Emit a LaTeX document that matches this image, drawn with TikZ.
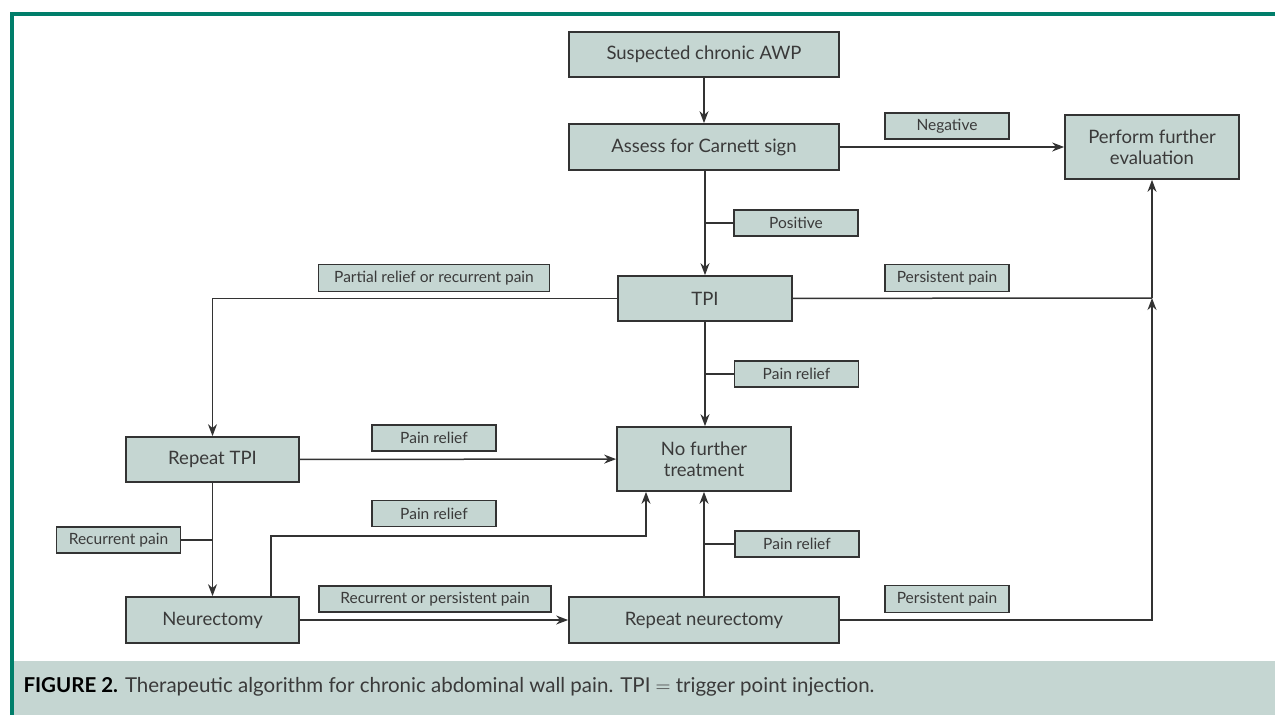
\documentclass[tikz,border=0pt]{standalone}
\usepackage{fontspec}
\setmainfont{Lato}
\usetikzlibrary{arrows.meta}
\definecolor{boxfill}{HTML}{C5D6D2}
\definecolor{frame}{HTML}{007E6A}
\definecolor{ink}{HTML}{333333}
\definecolor{txt}{HTML}{3A3A3A}
\tikzset{
  box/.style={draw=ink, line width=1.7pt, fill=boxfill, text=txt, align=center,
    inner sep=0pt, font=\fontsize{18.5}{21}\selectfont},
  lbl/.style={draw=ink, line width=1.5pt, fill=boxfill, text=txt, inner sep=0pt,
    minimum width=124pt, minimum height=26pt, font=\fontsize{15.5}{18}\selectfont},
  conn/.style={draw=ink, line width=1.5pt},
  arr/.style={conn, -{Stealth[length=12pt,width=9pt]}},
}
\begin{document}
\begin{tikzpicture}[x=1pt,y=-1pt]
\useasboundingbox (0,0) rectangle (1275,715);
% frame and caption band
\fill[boxfill] (13.5,661) rectangle (1275,715);
\fill[frame] (10,12) rectangle (1275,15.5);
\fill[frame] (10,12) rectangle (13.5,715);
\node[anchor=west, text=txt, font=\fontsize{20.5}{23}\selectfont] (cap) at (20,687)
  {{\color{black}\bfseries FIGURE 2.} Therapeutic algorithm for chronic abdominal wall pain. TPI $=$ trigger point injection.};
% main boxes
\node[box, minimum width=270pt, minimum height=45pt] (sus) at (704,54.5) {Suspected chronic AWP};
\node[box, minimum width=270pt, minimum height=46pt] (car) at (704,147) {Assess for Carnett sign};
\node[box, minimum width=174pt, minimum height=64pt] (pfe) at (1152,147) {Perform further\\evaluation};
\node[box, minimum width=174pt, minimum height=45pt] (tpi) at (705,298.5) {TPI};
\node[box, minimum width=173pt, minimum height=45pt] (rtpi) at (212.5,459.5) {Repeat TPI};
\node[box, minimum width=174pt, minimum height=64pt] (nft) at (704,459) {No further\\treatment};
\node[box, minimum width=173pt, minimum height=46pt] (neu) at (212.5,620) {Neurectomy};
\node[box, minimum width=270pt, minimum height=46pt] (rneu) at (704,620) {Repeat neurectomy};
% labels
\node[lbl] (neg) at (947,126) {Negative};
\node[lbl] (pos) at (796,223) {Positive};
\node[lbl, minimum width=231pt, minimum height=27pt] (part) at (434,278) {Partial relief or recurrent pain};
\node[lbl, minimum height=27pt] (pers1) at (947,278) {Persistent pain};
\node[lbl] (prel1) at (796.5,374) {Pain relief};
\node[lbl] (prel2) at (434,438) {Pain relief};
\node[lbl] (prel3) at (434,513.5) {Pain relief};
\node[lbl] (rec) at (118.5,540) {Recurrent pain};
\node[lbl, minimum width=232pt] (rop) at (435,599) {Recurrent or persistent pain};
\node[lbl] (prel4) at (797,544) {Pain relief};
\node[lbl, minimum height=27pt] (pers2) at (947,599) {Persistent pain};
% helper coordinates
\coordinate (j) at (1152,298);
\coordinate (n1) at (271,0);
\coordinate (n2) at (646,536);
% connectors
\draw[arr] (sus) -- (car);
\draw[arr] (car) -- (pfe);
\draw[arr] (car.south -| tpi) -- (tpi);
\draw[conn] (pos.west -| tpi) -- (pos.west);
\draw[conn] (tpi) -- (j);
\draw[arr] (tpi) -| (rtpi);
\draw[arr] (tpi) -- (tpi |- nft.north);
\draw[conn] (prel1.west -| tpi) -- (prel1.west);
\draw[arr] (rtpi) -- (nft);
\draw[arr] (rtpi) -- (neu);
\draw[conn] (rec.east) -- (rec.east -| rtpi);
\draw[arr] (neu.north -| n1) |- (n2) -- (nft.south -| n2);
\draw[arr] (neu) -- (rneu);
\draw[arr] (rneu.north) -- (nft.south -| rneu.north);
\draw[conn] (prel4.west -| rneu.north) -- (prel4.west);
\draw[arr] (rneu) -| (j);
\draw[arr] (j) -- (pfe);
\end{tikzpicture}
\end{document}
